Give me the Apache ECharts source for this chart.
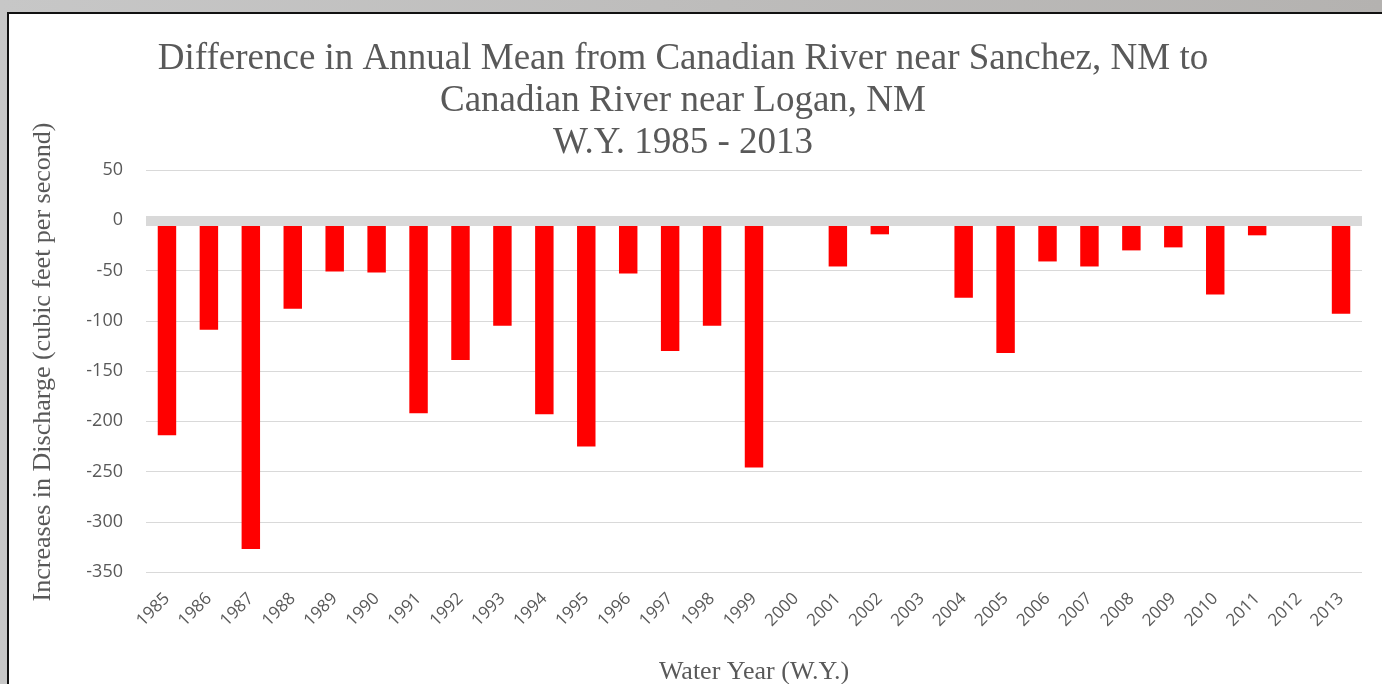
<!DOCTYPE html>
<html>
<head>
<meta charset="utf-8">
<title>Difference in Annual Mean Discharge</title>
<script src="https://cdn.jsdelivr.net/npm/echarts@6/dist/echarts.min.js"></script>
<style>
  html, body { margin: 0; padding: 0; background: #c0bfbd; }
  #chart { width: 1382px; height: 684px; }
</style>
</head>
<body>
<div id="chart"></div>
<script>
// Water years on the category axis
const years = ['1985','1986','1987','1988','1989','1990','1991','1992','1993','1994',
  '1995','1996','1997','1998','1999','2000','2001','2002','2003','2004','2005','2006',
  '2007','2008','2009','2010','2011','2012','2013'];

// Logan minus Sanchez annual mean discharge (cfs); null = no value that year
const difference = [-214, -109, -327, -88, -51, -52, -192, -139, -105, -193,
  -225, -53, -130, -105, -246, null, -46, -14, null, -77, -132, -41,
  -46, -30, -27, -74, -15, null, -93];

// Value-axis range and step
const yMin = -350;
const yMax = 50;
const yStep = 50;

const textGray = '#595959';
const serif = '"Liberation Serif", "DejaVu Serif", serif';
const sans = '"Open Sans", "Noto Sans", sans-serif';

const chart = echarts.init(document.getElementById('chart'), null, { renderer: 'canvas' });

chart.setOption({
  backgroundColor: {
    type: 'linear', x: 0, y: 0, x2: 1, y2: 0,
    colorStops: [{ offset: 0, color: '#c7c7c7' }, { offset: 1, color: '#b4b2b0' }]
  },
  animation: false,
  graphic: [{
    type: 'rect',
    z: -10,
    shape: { x: 8, y: 13, width: 1420, height: 720 },
    style: { fill: '#ffffff', stroke: '#111111', lineWidth: 2 }
  }],
  title: {
    text: 'Difference in Annual Mean from Canadian River near Sanchez, NM to\nCanadian River near Logan, NM\nW.Y. 1985 - 2013',
    left: 678,
    top: 33,
    textAlign: 'center',
    textStyle: {
      fontFamily: serif,
      fontSize: 37,
      fontWeight: 'normal',
      color: textGray,
      lineHeight: 42
    }
  },
  grid: {
    left: 146, right: 20, top: 170, bottom: 112,
    containLabel: false,
    outerBoundsMode: 'none'
  },
  xAxis: {
    type: 'category',
    data: years,
    position: 'bottom',
    axisLine: { show: false, onZero: false },
    axisTick: { show: false },
    axisLabel: {
      rotate: 45,
      interval: 0,
      margin: 24,
      color: textGray,
      fontFamily: sans,
      fontSize: 17
    },
    name: 'Water Year (W.Y.)',
    nameLocation: 'middle',
    nameGap: 87,
    nameTextStyle: { fontFamily: serif, fontSize: 26, color: textGray }
  },
  yAxis: {
    type: 'value',
    min: yMin,
    max: yMax,
    interval: yStep,
    axisLine: { show: false },
    axisTick: { show: false },
    splitLine: { lineStyle: { color: '#d9d9d9', width: 1 } },
    axisLabel: {
      margin: 23,
      color: textGray,
      fontFamily: sans,
      fontSize: 18
    },
    name: 'Increases in Discharge (cubic feet per second)',
    nameLocation: 'middle',
    nameRotate: 90,
    nameGap: 90,
    nameTextStyle: {
      fontFamily: serif, fontSize: 26, color: textGray,
      padding: [0, 0, 0, 18]
    }
  },
  series: [{
    type: 'bar',
    data: difference,
    barWidth: '44%',
    itemStyle: { color: '#ff0000' },
    markLine: {
      silent: true,
      symbol: 'none',
      label: { show: false },
      lineStyle: { color: '#d9d9d9', width: 10, type: 'solid' },
      data: [{ yAxis: 0 }]
    }
  }]
});
</script>
</body>
</html>
